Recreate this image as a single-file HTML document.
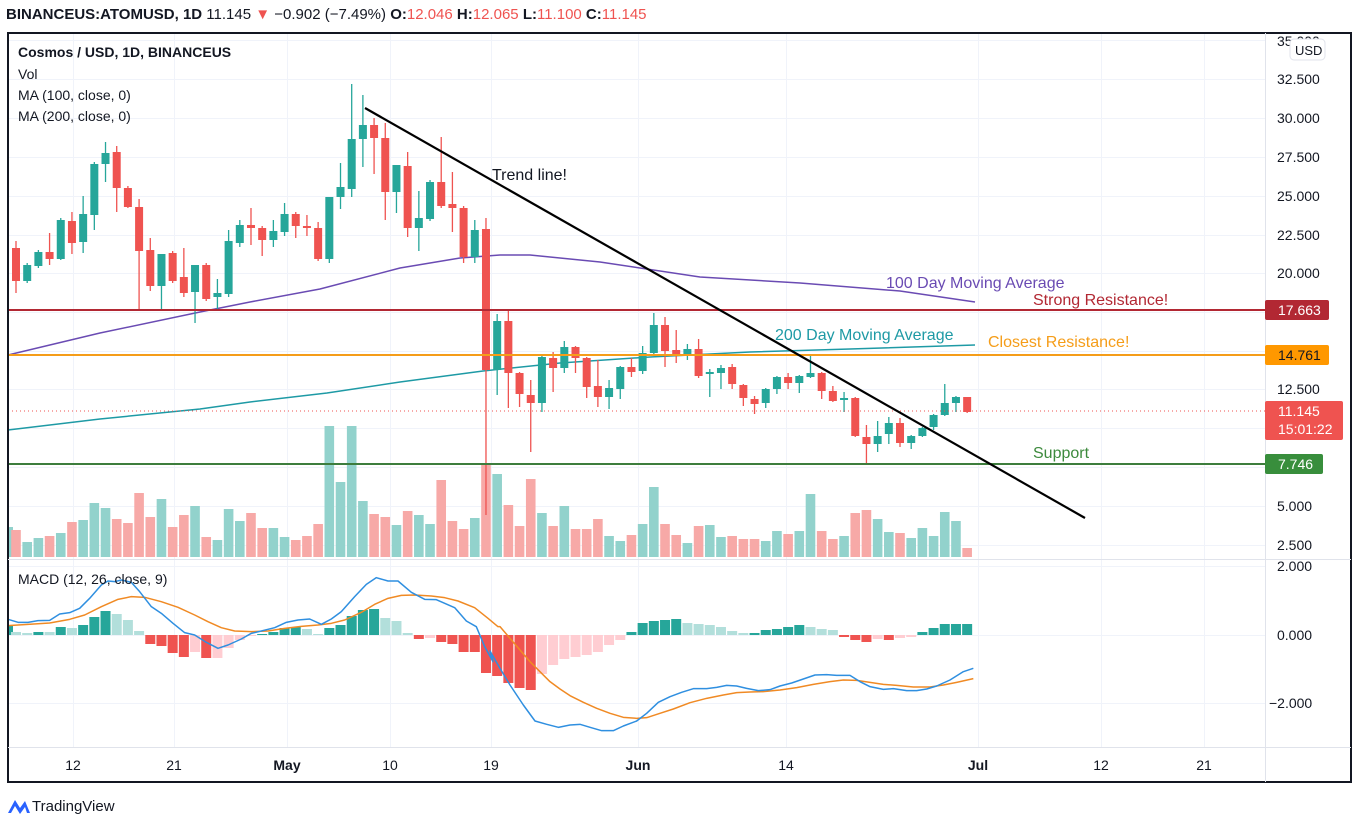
<!DOCTYPE html>
<html><head><meta charset="utf-8"><style>
html,body{margin:0;padding:0;background:#fff;width:1359px;height:829px;overflow:hidden}
svg{display:block}
text{font-family:"Liberation Sans",sans-serif}
</style></head><body>
<svg id="s" width="1359" height="829" xmlns="http://www.w3.org/2000/svg">
<g id="grid" stroke="#f0f3fa" stroke-width="1"></g>
<g id="vol"></g>
<g id="hist"></g>
<g id="lines"></g>
<g id="candles"></g>
<g id="over"></g>
<!-- frame -->
<rect x="8" y="33" width="1343" height="749" fill="none" stroke="#131722" stroke-width="2"/>
<line x1="1265.5" y1="33" x2="1265.5" y2="782" stroke="#e0e3eb"/>
<line x1="8" y1="747.5" x2="1351" y2="747.5" stroke="#e0e3eb"/>
<line x1="8" y1="559.5" x2="1351" y2="559.5" stroke="#e0e3eb"/>
<!-- header -->
<text x="6" y="19" font-size="15" fill="#131722"><tspan font-weight="bold">BINANCEUS:ATOMUSD, 1D</tspan> 11.145 <tspan fill="#ef5350">▼</tspan> −0.902 (−7.49%) <tspan font-weight="bold">O:</tspan><tspan fill="#ef5350">12.046</tspan> <tspan font-weight="bold">H:</tspan><tspan fill="#ef5350">12.065</tspan> <tspan font-weight="bold">L:</tspan><tspan fill="#ef5350">11.100</tspan> <tspan font-weight="bold">C:</tspan><tspan fill="#ef5350">11.145</tspan></text>
<text x="18" y="57" font-size="14" font-weight="bold" fill="#131722">Cosmos / USD, 1D, BINANCEUS</text>
<text x="18" y="79" font-size="14" fill="#131722">Vol</text>
<text x="18" y="100" font-size="14" fill="#131722">MA (100, close, 0)</text>
<text x="18" y="121" font-size="14" fill="#131722">MA (200, close, 0)</text>
<text x="18" y="584" font-size="14" fill="#131722">MACD (12, 26, close, 9)</text>
<!-- annotations -->
<text x="492" y="180" font-size="16" fill="#131722">Trend line!</text>
<text x="886" y="288" font-size="16" fill="#6a4bb3">100 Day Moving Average</text>
<text x="1033" y="305" font-size="16" fill="#b22833">Strong Resistance!</text>
<text x="775" y="340" font-size="16" fill="#1e9aa5">200 Day Moving Average</text>
<text x="988" y="347" font-size="16" fill="#f59d19">Closest Resistance!</text>
<text x="1033" y="458" font-size="16" fill="#3d8a3d">Support</text>
<!-- price axis -->
<g font-size="14" fill="#131722">
<text x="1277" y="46">35.000</text>
<text x="1277" y="84">32.500</text>
<text x="1277" y="123">30.000</text>
<text x="1277" y="162">27.500</text>
<text x="1277" y="201">25.000</text>
<text x="1277" y="240">22.500</text>
<text x="1277" y="278">20.000</text>
<text x="1277" y="394">12.500</text>
<text x="1277" y="511">5.000</text>
<text x="1277" y="550">2.500</text>
<text x="1277" y="571">2.000</text>
<text x="1277" y="640">0.000</text>
<text x="1269" y="708">−2.000</text>
</g>
<rect x="1290" y="39" width="35" height="21" rx="4" fill="#fff" stroke="#e0e3eb"/>
<text x="1295" y="55" font-size="13" fill="#131722">USD</text>
<rect x="1265" y="300" width="64" height="20" rx="2" fill="#b22833"/>
<text x="1278" y="315" font-size="14" fill="#fff">17.663</text>
<rect x="1265" y="345" width="64" height="20" rx="2" fill="#ff9800"/>
<text x="1278" y="360" font-size="14" fill="#131722">14.761</text>
<rect x="1265" y="401" width="78" height="39" rx="2" fill="#ef5350"/>
<text x="1278" y="416" font-size="14" fill="#fff">11.145</text>
<text x="1278" y="434" font-size="14" fill="#fff">15:01:22</text>
<rect x="1265" y="454" width="58" height="20" rx="2" fill="#388e3c"/>
<text x="1278" y="469" font-size="14" fill="#fff">7.746</text>
<!-- date axis -->
<g font-size="14" fill="#131722" text-anchor="middle">
<text x="73" y="770">12</text><text x="174" y="770">21</text><text x="287" y="770" font-weight="bold">May</text>
<text x="390" y="770">10</text><text x="491" y="770">19</text><text x="638" y="770" font-weight="bold">Jun</text>
<text x="786" y="770">14</text><text x="978" y="770" font-weight="bold">Jul</text><text x="1101" y="770">12</text><text x="1204" y="770">21</text>
</g>
<!-- logo -->
<path d="M8 813 L15 800 L20 808 L25 801 L30 813 L27 813 L25 807 L20 814 L15 806 L11 813Z" fill="#2962ff"/>
<text x="32" y="811" font-size="15" fill="#131722">TradingView</text>
</svg>
<script>
var NS="http://www.w3.org/2000/svg";
function el(p,t,a){var e=document.createElementNS(NS,t);for(var k in a)e.setAttribute(k,a[k]);document.getElementById(p).appendChild(e);return e;}
// grid
[73,174,287,390,491,638,786,978,1101,1204].forEach(function(x){el("grid","line",{x1:x+.5,y1:34,x2:x+.5,y2:747});});
[40,79,118,157,196,235,273,312,351,389,428,467,506,545,566,635,703].forEach(function(y){el("grid","line",{x1:9,y1:y+.5,x2:1265,y2:y+.5});});
// candles [o,c,h,l] in px
var C=[[248,281,241,293],[281,265,263,283],[266,252,250,268],[252,259,233,265],[259,220,218,260],[221,243,212,254],[242,214,196,253],[215,164,162,230],[164,153,142,182],[152,188,146,212],[188,207,186,208],[207,251,199,309],[250,286,238,291],[286,254,254,309],[253,281,251,283],[277,293,248,297],[292,265,265,323],[265,299,263,301],[297,293,279,310],[294,241,230,297],[243,225,220,247],[225,228,208,245],[228,240,226,256],[240,231,220,247],[232,214,203,236],[214,226,212,238],[226,228,215,236],[228,259,222,261],[259,197,197,263],[197,187,163,209],[189,139,84,197],[139,125,95,167],[125,138,118,174],[138,192,123,220],[192,165,165,213],[166,228,152,237],[228,218,191,251],[219,182,180,221],[182,206,137,208],[204,208,172,232],[208,257,206,263],[257,230,220,263],[229,370,218,515],[370,321,314,395],[321,373,310,408],[373,394,372,407],[395,403,380,452],[403,357,356,412],[358,368,352,392],[368,347,341,373],[347,358,346,373],[358,387,357,398],[386,397,360,407],[397,388,380,409],[389,367,366,399],[367,372,358,377],[371,353,346,374],[353,325,313,355],[325,351,317,367],[350,354,330,363],[354,349,344,360],[349,376,339,378],[374,372,369,397],[373,368,365,389],[367,384,364,389],[385,398,384,406],[399,404,396,414],[403,389,388,408],[389,377,376,394],[377,383,373,389],[383,376,375,393],[377,373,356,378],[373,391,372,399],[391,401,386,402],[400,398,392,412],[398,436,397,437],[437,444,425,463],[444,436,421,452],[434,423,417,444],[423,443,418,447],[443,436,435,449],[436,428,427,437],[427,415,414,430],[415,403,384,416],[403,397,396,412],[397,412,397,413]];
var V=[530,542,538,536,533,522,520,503,508,519,523,493,517,499,527,515,506,537,540,509,521,513,528,528,537,540,536,524,426,482,426,501,514,517,525,511,515,524,480,521,529,518,463,474,505,526,479,513,526,506,529,529,519,536,541,535,524,487,524,535,543,526,525,537,536,539,539,541,531,534,531,494,531,539,536,513,510,519,532,533,538,528,536,512,521,548];
var H=[[632,'l'],[633,'l'],[632,'d'],[632,'l'],[627,'d'],[628,'l'],[625,'d'],[617,'d'],[611,'d'],[614,'l'],[620,'l'],[631,'l'],[644,'r'],[646,'r'],[653,'r'],[657,'r'],[652,'p'],[658,'r'],[658,'p'],[648,'p'],[640,'p'],[636,'p'],[634,'d'],[632,'d'],[628,'d'],[627,'d'],[629,'l'],[634,'l'],[628,'d'],[625,'d'],[616,'d'],[610,'d'],[609,'d'],[618,'l'],[621,'l'],[633,'l'],[639,'r'],[638,'p'],[642,'r'],[644,'r'],[652,'r'],[652,'r'],[673,'r'],[676,'r'],[683,'r'],[688,'r'],[690,'r'],[674,'p'],[665,'p'],[659,'p'],[657,'p'],[655,'p'],[652,'p'],[645,'p'],[640,'p'],[632,'d'],[623,'d'],[621,'d'],[620,'d'],[619,'d'],[623,'l'],[624,'l'],[625,'l'],[627,'l'],[631,'l'],[633,'l'],[633,'d'],[630,'d'],[629,'d'],[627,'d'],[625,'d'],[627,'l'],[629,'l'],[630,'l'],[637,'r'],[640,'r'],[642,'r'],[639,'p'],[640,'r'],[638,'p'],[637,'p'],[632,'d'],[628,'d'],[624,'d'],[624,'d'],[624,'d']];
var HC={l:'#b2dfdb',d:'#26a69a',r:'#ef5350',p:'#ffcdd2'};
function X(i){return 16+11.19*i;}
// partial left candle/volume
el("vol","rect",{x:8,y:527,width:5,height:30,fill:'#92d2cc'});
el("hist","rect",{x:8,y:626,width:5,height:9,fill:'#26a69a'});
for(var i=0;i<C.length;i++){
 var x=X(i),c=C[i],up=c[1]<c[0],col=up?'#26a69a':'#ef5350';
 el("vol","rect",{x:x-4.8,y:V[i],width:9.6,height:557-V[i],fill:up?'#92d2cc':'#f7a9a7'});
 var h=H[i][0];
 el("hist","rect",{x:x-5,y:Math.min(h,635),width:10,height:Math.max(1,Math.abs(h-635)),fill:HC[H[i][1]]});
 el("candles","line",{x1:x,y1:c[2],x2:x,y2:c[3],stroke:col,'stroke-width':1.3});
 var t=Math.min(c[0],c[1]),b=Math.max(c[0],c[1]);
 el("candles","rect",{x:x-4,y:t,width:8,height:Math.max(1.5,b-t),fill:col});
}
function pl(g,pts,st,w){el(g,"polyline",{points:pts.map(function(p){return p.join(',')}).join(' '),fill:'none',stroke:st,'stroke-width':w||1.5,'stroke-linejoin':'round'});}
// MAs
pl("lines",[[8,355],[100,333],[200,312],[250,302],[320,289],[400,268],[460,258],[500,255],[530,255],[600,262],[700,277],[800,283],[900,291],[975,302]],'#6a4bb3',1.5);
pl("lines",[[8,430],[100,419],[200,409],[250,402],[327,393],[400,382],[483,371],[560,363],[650,357],[750,352],[850,349],[975,345]],'#1e9aa5',1.5);
// MACD
var b1=[[0,163],[30,172],[60,172],[90,167],[125,166],[155,147],[185,143],[215,130],[245,100],[280,60],[300,48],[320,50],[340,45],[370,52],[395,80],[430,125],[460,145],[495,175],[530,203],[560,210],[595,232],[630,250],[660,240],[700,222],[730,205],[760,198],[800,188],[835,172],[870,165],[905,162],[940,178],[970,162],[1000,140],[1040,95],[1075,58],[1105,38],[1140,48],[1170,48],[1210,82],[1250,103],[1285,104],[1310,115],[1340,128],[1375,168],[1405,185],[1430,245],[1455,290]].map(function(p){return [8+p[0]/3,565+p[1]/3];});
var b2=[[0,258],[30,310],[60,360],[100,420],[135,468],[170,478],[205,487],[240,480],[270,478],[300,487],[335,497],[370,497],[400,483],[440,468],[470,445],[505,412],[540,395],[575,382],[610,371],[650,371],[680,367],[710,361],[740,363],[770,370],[805,377],[840,374],[870,363],[905,354],[940,342],[975,330],[1010,329],[1040,331],[1080,331],[1110,350],[1140,365],[1180,373],[1210,371],[1250,377],[1280,377],[1310,372],[1340,363],[1380,345],[1420,320],[1450,310]].map(function(p){return [490+p[0]/3,565+p[1]/3];});
var o1=[[0,182],[60,178],[125,174],[185,163],[230,150],[280,125],[330,103],[370,95],[410,97],[460,110],[510,127],[560,150],[600,170],[640,188],[680,198],[730,200],[780,198],[830,190],[880,184],[930,180],[970,175],[1010,165],[1060,142],[1100,118],[1140,100],[1180,91],[1220,90],[1270,93],[1310,98],[1350,108],[1400,128],[1440,160],[1470,185]].map(function(p){return [8+p[0]/3,565+p[1]/3];});
var o2=[[30,185],[60,220],[90,255],[120,290],[150,320],[180,350],[210,372],[240,392],[280,412],[320,430],[360,445],[400,457],[440,460],[470,458],[510,445],[550,432],[600,413],[650,400],[700,390],[740,383],[780,381],[820,380],[870,375],[920,368],[970,358],[1020,350],[1060,345],[1100,346],[1140,352],[1180,358],[1220,361],[1270,366],[1320,366],[1360,360],[1400,352],[1450,341]].map(function(p){return [490+p[0]/3,565+p[1]/3];});
pl("lines",o1.concat(o2),'#f08a24',1.5);
pl("lines",b1.concat(b2),'#2f8fe0',1.5);
// horizontal levels
el("over","line",{x1:8,y1:310,x2:1265,y2:310,stroke:'#b22833','stroke-width':2});
el("over","line",{x1:8,y1:355,x2:1265,y2:355,stroke:'#f59d19','stroke-width':2});
el("over","line",{x1:8,y1:464,x2:1265,y2:464,stroke:'#3d7d3d','stroke-width':2});
el("over","line",{x1:8,y1:411,x2:1265,y2:411,stroke:'#ef5350','stroke-width':1,'stroke-dasharray':'1,3'});
el("over","line",{x1:365,y1:108,x2:1085,y2:518,stroke:'#000','stroke-width':2.2});
</script>
</body></html>
